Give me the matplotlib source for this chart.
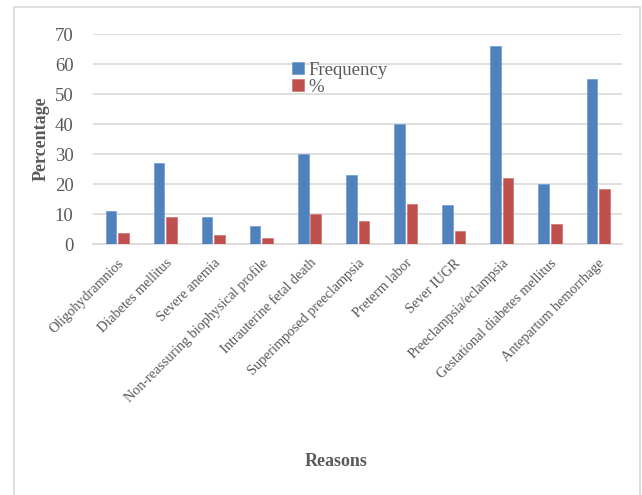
import numpy as np
import matplotlib
matplotlib.use("Agg")
import matplotlib.pyplot as plt
from matplotlib.patches import Rectangle

# Dati
reasons = ["Oligohydramnios", "Diabetes mellitus", "Severe anemia",
           "Non-reassuring biophysical profile", "Intrauterine fetal death",
           "Superimposed preeclampsia", "Preterm labor", "Sever IUGR",
           "Preeclampsia/eclampsia", "Gestational diabetes mellitus",
           "Antepartum hemorrhage"]
frequency = [11, 27, 9, 6, 30, 23, 40, 13, 66, 20, 55]
percent = [3.7, 9.0, 3.0, 2.0, 10.0, 7.7, 13.3, 4.3, 22.0, 6.7, 18.3]

plt.rcParams["font.family"] = ["Liberation Serif", "DejaVu Serif"]

fig = plt.figure(figsize=(6.42, 4.95), dpi=100)
fig.patches.append(Rectangle((0.022, -0.01), 0.975, 0.996, transform=fig.transFigure,
                             fill=False, edgecolor="#d9d9d9", linewidth=1.2))
ax = fig.add_axes([0.145, 0.507, 0.824, 0.424])

x = np.arange(len(reasons))
w = 0.22
ax.bar(x - 0.13, frequency, w, color="#4F81BD", edgecolor="#6f9bd0", linewidth=0.5,
       label="Frequency", zorder=3)
ax.bar(x + 0.13, percent, w, color="#C0504D", edgecolor="#d07370", linewidth=0.5,
       label="%", zorder=3)

ax.set_xlim(-0.5, len(reasons) - 0.5)
ax.set_ylim(0, 70)
ax.set_yticks(range(0, 71, 10))
ax.yaxis.grid(True, color="#d9d9d9", linewidth=1.2, zorder=0)
for s in ["top", "right", "left"]:
    ax.spines[s].set_visible(False)
ax.spines["bottom"].set_color("#d9d9d9")
ax.spines["bottom"].set_linewidth(1.2)
ax.tick_params(axis="both", length=0, colors="#595959")
ax.tick_params(axis="y", labelsize=13.5, pad=14)
ax.tick_params(axis="x", pad=9)

ax.set_xticks(x)
ax.set_xticklabels(reasons, rotation=45, ha="right", rotation_mode="anchor",
                   fontsize=10.2, color="#595959")

ax.set_ylabel("Percentage", fontsize=13, fontweight="bold", color="#595959", labelpad=4)
fig.text(0.523, 0.067, "Reasons", ha="center", va="center", fontsize=13,
         fontweight="bold", color="#595959")

ax.legend(loc="upper left", bbox_to_anchor=(0.345, 0.95), frameon=False,
          handlelength=0.6, handleheight=0.6, handletextpad=0.25, labelspacing=0.0,
          fontsize=13.5, labelcolor="#595959")

plt.savefig("out.png", dpi=100)
